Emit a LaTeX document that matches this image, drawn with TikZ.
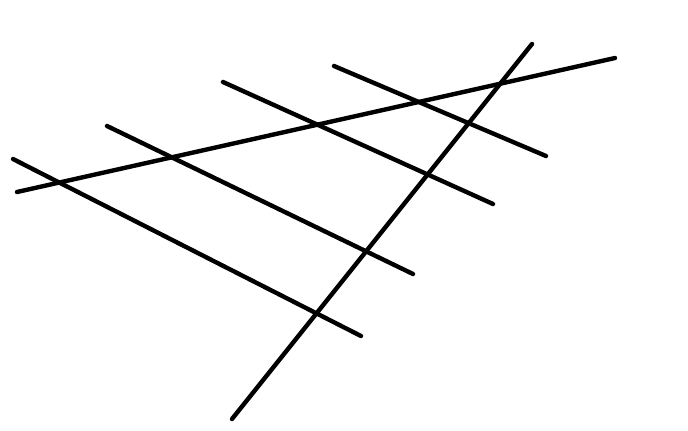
\documentclass[tikz,border=0pt]{standalone}
\begin{document}
\begin{tikzpicture}[x=1pt,y=-1pt,ln/.style={line width=4.4pt,line cap=round,black}]
\useasboundingbox (0,0) rectangle (688,431);
\coordinate (L1a) at (17,192); \coordinate (L1b) at (615,58);
\coordinate (L2a) at (232,419); \coordinate (L2b) at (532,44);
\coordinate (Aa) at (13,159); \coordinate (Ab) at (361,336);
\coordinate (Ba) at (107,126); \coordinate (Bb) at (413,274);
\coordinate (Ca) at (223,82); \coordinate (Cb) at (493,204);
\coordinate (Da) at (334,66); \coordinate (Db) at (546,156);
\draw[ln] (L1a) -- (L1b);
\draw[ln] (L2a) -- (L2b);
\draw[ln] (Aa) -- (Ab);
\draw[ln] (Ba) -- (Bb);
\draw[ln] (Ca) -- (Cb);
\draw[ln] (Da) -- (Db);
\end{tikzpicture}
\end{document}
